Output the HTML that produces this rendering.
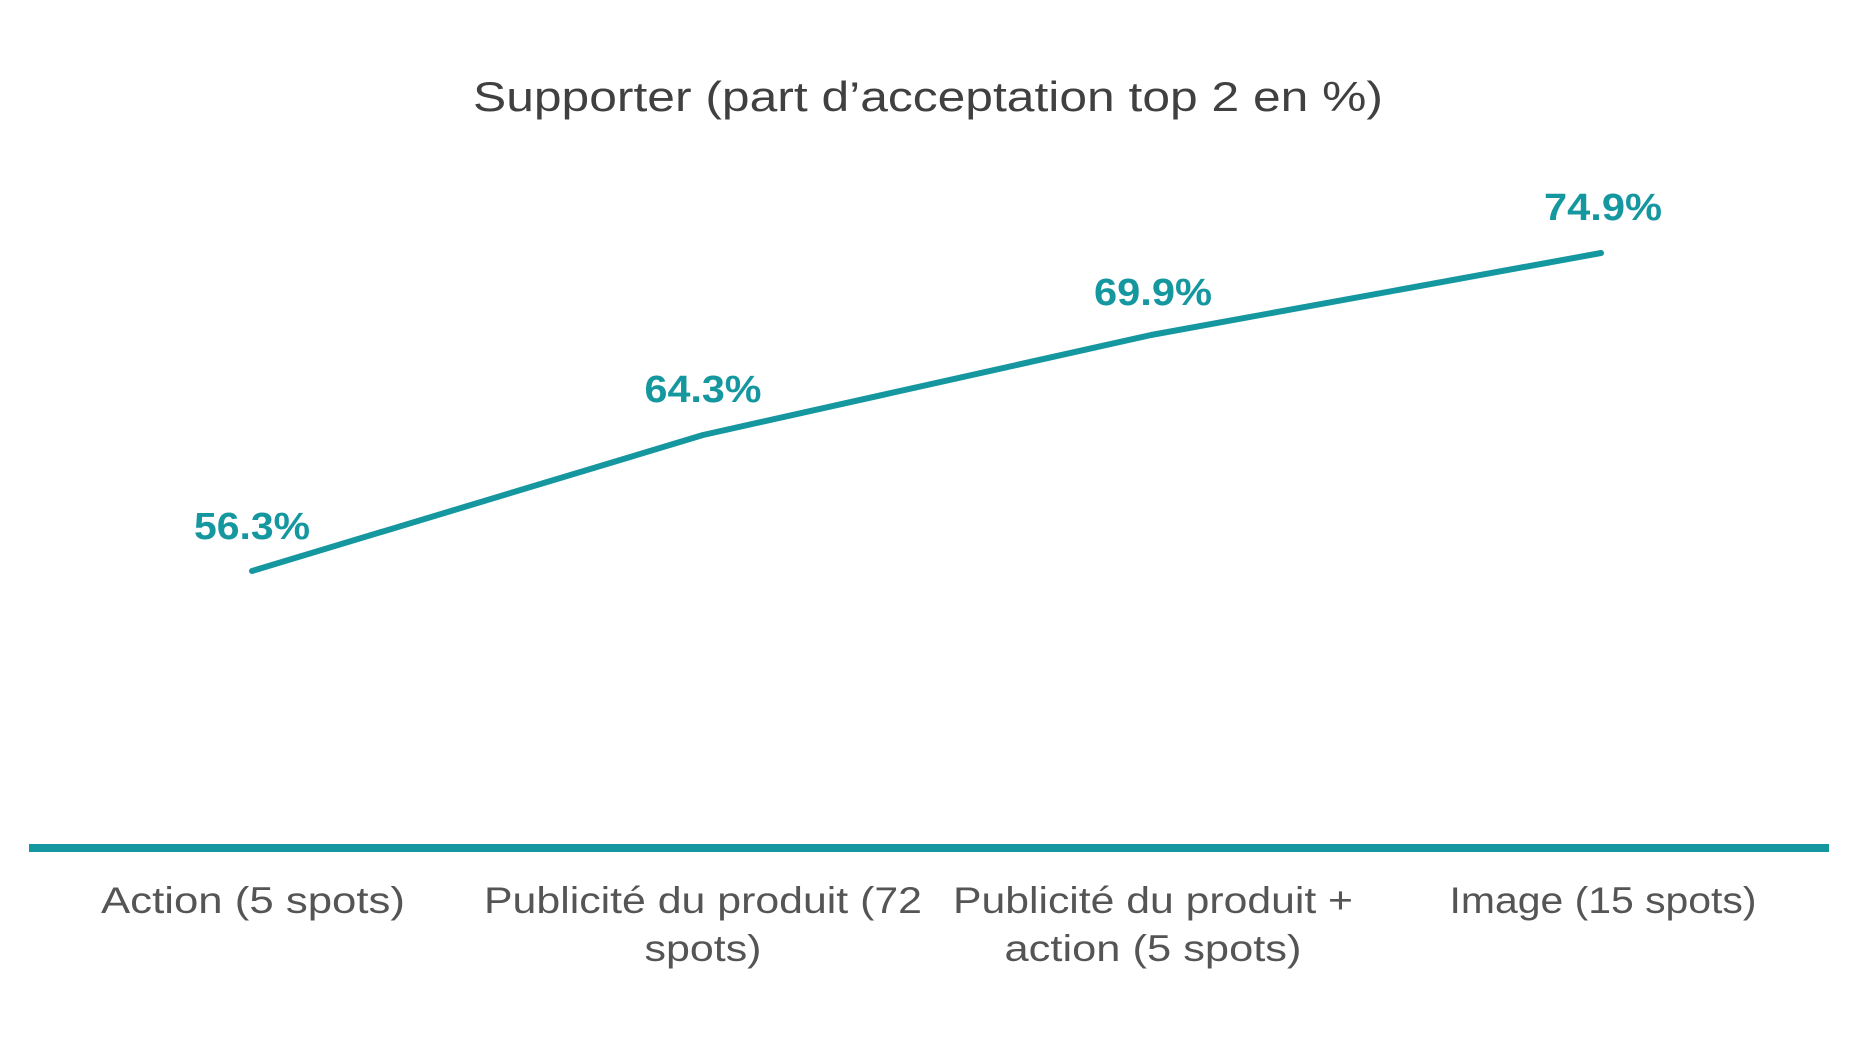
<!DOCTYPE html>
<html><head><meta charset="utf-8"><style>
html,body{margin:0;padding:0;background:#fff;width:1860px;height:1047px;overflow:hidden}
</style></head><body>
<svg width="1860" height="1047" viewBox="0 0 1860 1047" xmlns="http://www.w3.org/2000/svg">
<text x="928" y="111" text-anchor="middle" font-family="Liberation Sans, sans-serif" font-size="42" fill="#404040" textLength="910" lengthAdjust="spacingAndGlyphs">Supporter (part d’acceptation top 2 en %)</text>
<polyline points="252,571 703,435 1151,335 1601,253" fill="none" stroke="#1597a0" stroke-width="6" stroke-linecap="round" stroke-linejoin="round"/>
<g font-family="Liberation Sans, sans-serif" font-size="38" font-weight="bold" fill="#1597a0" text-anchor="middle">
<text x="252" y="539" textLength="116" lengthAdjust="spacingAndGlyphs">56.3%</text>
<text x="703" y="402" textLength="117" lengthAdjust="spacingAndGlyphs">64.3%</text>
<text x="1153" y="305" textLength="118" lengthAdjust="spacingAndGlyphs">69.9%</text>
<text x="1603" y="220" textLength="118" lengthAdjust="spacingAndGlyphs">74.9%</text>
</g>
<rect x="29" y="844" width="1800" height="8" fill="#1597a0"/>
<g font-family="Liberation Sans, sans-serif" font-size="37" fill="#555" text-anchor="middle">
<text x="253" y="913" textLength="304" lengthAdjust="spacingAndGlyphs">Action (5 spots)</text>
<text x="703" y="913" textLength="438" lengthAdjust="spacingAndGlyphs">Publicité du produit (72</text>
<text x="703" y="961" textLength="117" lengthAdjust="spacingAndGlyphs">spots)</text>
<text x="1153" y="913" textLength="400" lengthAdjust="spacingAndGlyphs">Publicité du produit +</text>
<text x="1153" y="961" textLength="297" lengthAdjust="spacingAndGlyphs">action (5 spots)</text>
<text x="1603" y="913" textLength="307" lengthAdjust="spacingAndGlyphs">Image (15 spots)</text>
</g>
</svg>
</body></html>
